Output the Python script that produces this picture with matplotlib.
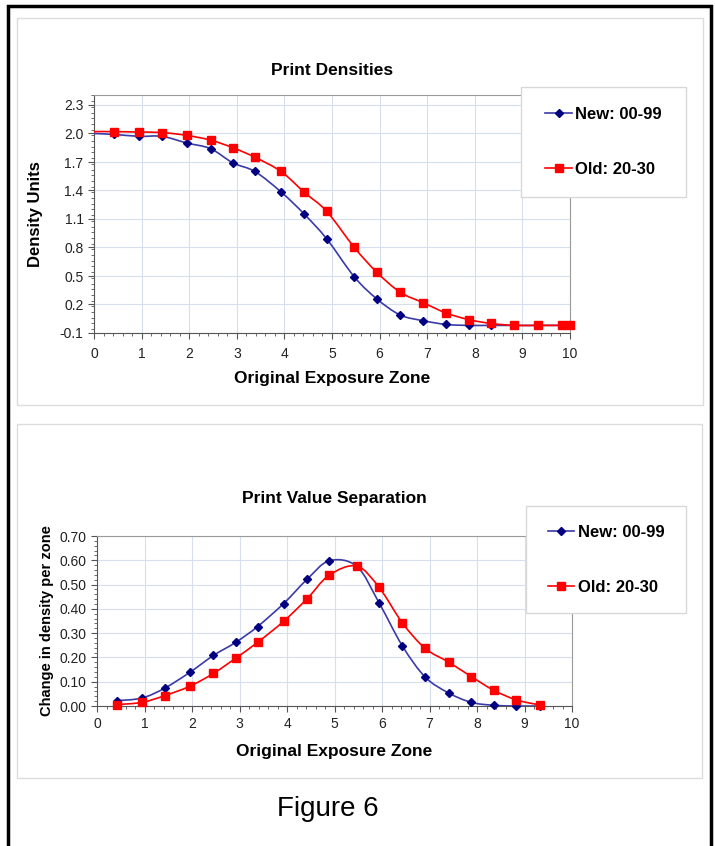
import numpy as np
import matplotlib
matplotlib.use('Agg')
import matplotlib.pyplot as plt
from matplotlib.path import Path
from matplotlib.patches import PathPatch, Rectangle
from matplotlib.lines import Line2D
from matplotlib.ticker import MultipleLocator, FormatStrFormatter

plt.rcParams['font.family'] = ['Liberation Sans', 'DejaVu Sans']

# --- data ---
zones_top = [0.0, 0.43, 0.95, 1.43, 1.95, 2.45, 2.92, 3.38, 3.93, 4.42, 4.89,
             5.47, 5.94, 6.43, 6.91, 7.40, 7.88, 8.35, 8.83, 9.33, 9.83, 10.0]
dens_new = [2.00, 1.99, 1.97, 1.97, 1.90, 1.84, 1.69, 1.60, 1.385, 1.15, 0.89,
            0.49, 0.26, 0.09, 0.03, -0.01, -0.02, -0.02, -0.02, -0.02, -0.02, -0.02]
dens_old = [2.02, 2.02, 2.015, 2.01, 1.98, 1.93, 1.85, 1.75, 1.60, 1.38, 1.18,
            0.80, 0.54, 0.33, 0.22, 0.11, 0.04, 0.00, -0.02, -0.02, -0.02, -0.02]

zones_bot = [0.43, 0.95, 1.43, 1.95, 2.45, 2.92, 3.38, 3.93, 4.42, 4.89,
             5.47, 5.94, 6.43, 6.91, 7.40, 7.88, 8.35, 8.83, 9.33]
sep_new = [0.022, 0.033, 0.074, 0.138, 0.208, 0.262, 0.327, 0.422, 0.521, 0.598,
           0.575, 0.424, 0.247, 0.119, 0.054, 0.015, 0.003, 0.0, 0.0]
sep_old = [0.006, 0.015, 0.043, 0.081, 0.134, 0.197, 0.262, 0.349, 0.441, 0.539,
           0.576, 0.488, 0.342, 0.237, 0.181, 0.121, 0.065, 0.025, 0.004]

labels = ['New: 00-99', 'Old: 20-30']
BLUE_LINE = '#3a3aa8'
BLUE_MK = '#000080'
RED = '#ff0000'
GRID = '#d6dfee'

W, H = 715, 846


def smooth_path(x, y):
    # Excel style smoothed line: bezier segments through the points
    x = np.asarray(x, float)
    y = np.asarray(y, float)
    p = np.column_stack([x, y])
    n = len(p)
    verts = [p[0]]
    codes = [Path.MOVETO]
    for i in range(n - 1):
        p0 = p[i - 1] if i > 0 else p[i]
        p3 = p[i + 2] if i + 2 < n else p[i + 1]
        c1 = p[i] + (p[i + 1] - p0) / 6.0
        c2 = p[i + 1] - (p3 - p[i]) / 6.0
        verts += [c1, c2, p[i + 1]]
        codes += [Path.CURVE4] * 3
    return Path(verts, codes)


def series(ax, x, y, line_color, mk_color, marker, ms, skip_first=False):
    ax.add_patch(PathPatch(smooth_path(x, y), fill=False, edgecolor=line_color,
                           lw=1.2, zorder=3))
    xs, ys = (x[1:], y[1:]) if skip_first else (x, y)
    ax.plot(xs, ys, ls='none', marker=marker, ms=ms, color=mk_color,
            mec=mk_color, zorder=4, clip_on=False)


def style_axes(ax, xpad):
    ax.set_facecolor('white')
    ax.grid(True, which='major', color=GRID, lw=0.8)
    ax.set_axisbelow(True)
    for s in ['left', 'bottom']:
        ax.spines[s].set_color('#555555')
    for s in ['top', 'right']:
        ax.spines[s].set_color('#9a9a9a')
    ax.tick_params(which='major', direction='out', length=4, color='#555555',
                   labelsize=10, labelcolor='#222222')
    ax.tick_params(axis='x', which='major', pad=xpad)
    ax.tick_params(which='minor', direction='out', length=2.5, color='#555555')


def legend_box(ax, x0, y0, x1, y1, handles):
    fig = ax.figure
    fig.patches.append(Rectangle((x0 / W, 1 - y1 / H), (x1 - x0) / W, (y1 - y0) / H,
                                 transform=fig.transFigure, facecolor='white',
                                 edgecolor='#d8d8d8', lw=1, zorder=5))
    leg = fig.legend(handles, labels, loc='center', frameon=False,
                     bbox_to_anchor=((x0 + x1) / 2 / W, 1 - (y0 + y1) / 2 / H),
                     prop={'weight': 'bold', 'size': 12}, numpoints=1,
                     handlelength=1.6, handletextpad=0.2, labelspacing=2.4)
    leg.set_zorder(6)


fig = plt.figure(figsize=(W / 100, H / 100), dpi=100)
fig.patch.set_facecolor('white')

# frames
fig.patches.append(Rectangle((8 / W, -0.01), (711 - 8) / W, 1 - 6 / H + 0.01,
                             transform=fig.transFigure, fill=False,
                             edgecolor='black', lw=2.5))
for (x0, y0, x1, y1) in [(17, 18, 703, 405), (17, 424, 702, 778)]:
    fig.patches.append(Rectangle((x0 / W, 1 - y1 / H), (x1 - x0) / W, (y1 - y0) / H,
                                 transform=fig.transFigure, fill=False,
                                 edgecolor='#dcdcdc', lw=1))

hand = [Line2D([], [], color=BLUE_LINE, marker='D', ms=3.6, mfc=BLUE_MK, mec=BLUE_MK, lw=1.2),
        Line2D([], [], color=RED, marker='s', ms=5.5, lw=1.2)]

# --- top chart ---
ax1 = fig.add_axes([94 / W, 1 - 333 / H, (570 - 94) / W, 237.5 / H])
style_axes(ax1, 6)
series(ax1, zones_top, dens_new, BLUE_LINE, BLUE_MK, 'D', 3.6, skip_first=True)
series(ax1, zones_top, dens_old, RED, RED, 's', 5.5, skip_first=True)
ax1.set_xlim(0, 10)
ax1.set_ylim(-0.1, 2.4)
ax1.xaxis.set_major_locator(MultipleLocator(1))
ax1.xaxis.set_minor_locator(MultipleLocator(0.2))
ax1.set_yticks(np.arange(-0.1, 2.31, 0.3))
ax1.yaxis.set_major_formatter(FormatStrFormatter('%.1f'))
ax1.yaxis.set_minor_locator(MultipleLocator(0.06))
ax1.set_title('Print Densities', fontsize=12.5, fontweight='bold', pad=15)
ax1.set_xlabel('Original Exposure Zone', fontsize=12.5, fontweight='bold', labelpad=7)
ax1.set_ylabel('Density Units', fontsize=12, fontweight='bold', labelpad=12)
legend_box(ax1, 521, 87, 686, 197, hand)

# --- bottom chart ---
ax2 = fig.add_axes([97 / W, 1 - 706 / H, (572 - 97) / W, 170 / H])
style_axes(ax2, 4)
series(ax2, zones_bot, sep_new, BLUE_LINE, BLUE_MK, 'D', 3.6)
series(ax2, zones_bot, sep_old, RED, RED, 's', 5.5)
ax2.set_xlim(0, 10)
ax2.set_ylim(0, 0.70)
ax2.xaxis.set_major_locator(MultipleLocator(1))
ax2.xaxis.set_minor_locator(MultipleLocator(0.2))
ax2.yaxis.set_major_locator(MultipleLocator(0.1))
ax2.yaxis.set_major_formatter(FormatStrFormatter('%.2f'))
ax2.yaxis.set_minor_locator(MultipleLocator(0.02))
ax2.set_title('Print Value Separation', fontsize=12.5, fontweight='bold', pad=24)
ax2.set_xlabel('Original Exposure Zone', fontsize=12.5, fontweight='bold', labelpad=9)
ax2.set_ylabel('Change in density per zone', fontsize=10.5, fontweight='bold', labelpad=4)
legend_box(ax2, 526, 506, 686, 613, hand)

fig.text(328 / W, 1 - 809 / H, 'Figure 6', fontsize=20, ha='center', va='center')

fig.savefig('out.png', dpi=100)
